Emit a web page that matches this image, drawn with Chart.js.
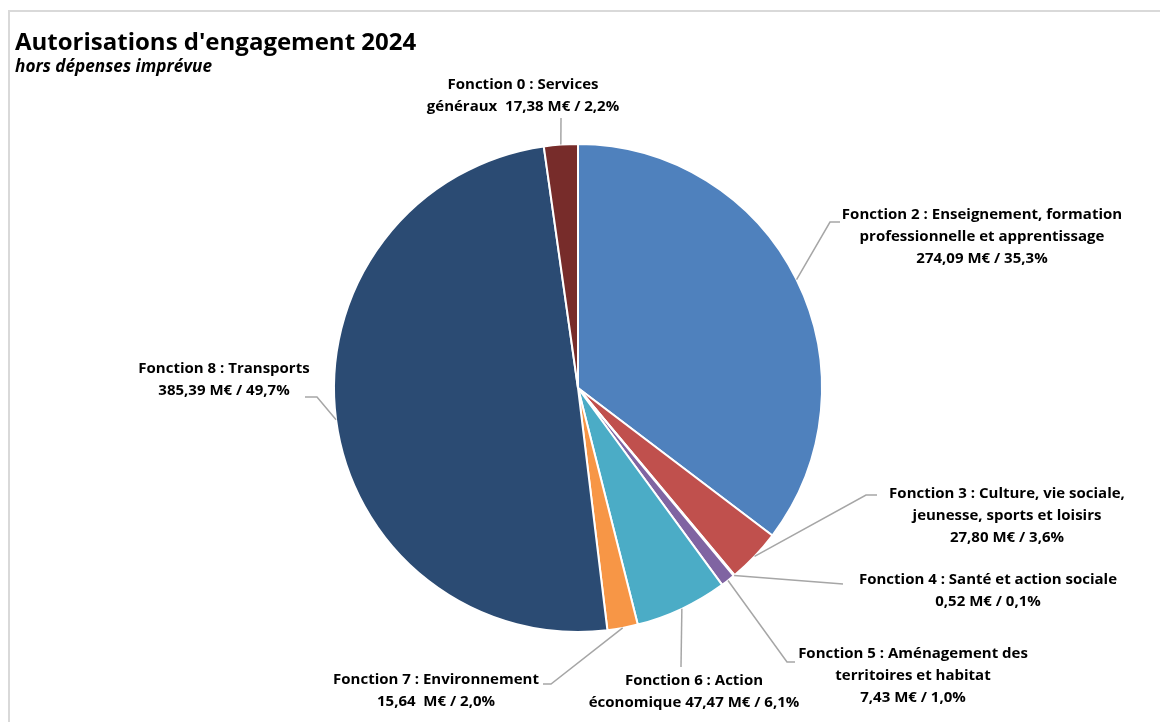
<!DOCTYPE html>
<html lang="fr">
<head>
<meta charset="utf-8">
<title>Autorisations d'engagement 2024</title>
<script src="https://cdn.jsdelivr.net/npm/chart.js@4"></script>
<style>
  html, body { margin: 0; padding: 0; background: #fff; }
  canvas { display: block; }
</style>
</head>
<body>
<canvas id="aeChart" width="1161" height="722"></canvas>
<script>
// Data (clockwise from 12 o'clock)
const categories = ['Fonction 2', 'Fonction 3', 'Fonction 4', 'Fonction 5', 'Fonction 6', 'Fonction 7', 'Fonction 8', 'Fonction 0'];
const amounts = [274.09, 27.80, 0.52, 7.43, 47.47, 15.64, 385.39, 17.38];
const labelLines = [
  ['Fonction 2 : Enseignement, formation', 'professionnelle et apprentissage', '274,09 M€ / 35,3%'],
  ['Fonction 3 : Culture, vie sociale,', 'jeunesse, sports et loisirs', '27,80 M€ / 3,6%'],
  ['Fonction 4 : Santé et action sociale', '0,52 M€ / 0,1%'],
  ['Fonction 5 : Aménagement des', 'territoires et habitat', '7,43 M€ / 1,0%'],
  ['Fonction 6 : Action', 'économique 47,47 M€ / 6,1%'],
  ['Fonction 7 : Environnement', '15,64  M€ / 2,0%'],
  ['Fonction 8 : Transports', '385,39 M€ / 49,7%'],
  ['Fonction 0 : Services', 'généraux  17,38 M€ / 2,2%']
];
const sliceColors = ['#4F81BD', '#C0504D', '#9BBB59', '#8064A2', '#4BACC6', '#F79646', '#2B4B73', '#772C2A'];

// Label layout, relative to the pie centre: text block centre (x, first line y),
// leader elbow and leader end
const labelLayout = [
  { tx: 404, ty: -173, elbow: [252, -166], end: [262, -166] },
  { tx: 429, ty: 106, elbow: [288, 107], end: [299, 107] },
  { tx: 410, ty: 192, elbow: [265, 196], end: [265, 196] },
  { tx: 335, ty: 266, elbow: [209, 274], end: [217, 274] },
  { tx: 116, ty: 293, elbow: [103, 279], end: [103, 279] },
  { tx: -142, ty: 292, elbow: [-27, 296], end: [-35, 296] },
  { tx: -354, ty: -19, elbow: [-261, 9], end: [-273, 9] },
  { tx: -55, ty: -303, elbow: [-17, -270], end: [-17, -270] }
];

const LABEL_FONT = 'bold 15px "Open Sans", Lato, sans-serif';
const LINE_HEIGHT = 22;

// Frame and titles
const framePlugin = {
  id: 'frame',
  beforeDraw(chart) {
    const ctx = chart.ctx;
    ctx.save();
    ctx.fillStyle = '#fff';
    ctx.fillRect(0, 0, chart.width, chart.height);
    ctx.strokeStyle = '#D9D9D9';
    ctx.lineWidth = 2;
    ctx.beginPath();
    ctx.moveTo(9, chart.height + 5);
    ctx.lineTo(9, 11);
    ctx.lineTo(1160, 11);
    ctx.stroke();
    ctx.fillStyle = '#000';
    ctx.textAlign = 'left';
    ctx.textBaseline = 'alphabetic';
    ctx.font = 'bold 24px "Open Sans", Lato, sans-serif';
    ctx.fillText("Autorisations d'engagement 2024", 15, 50);
    ctx.font = 'italic bold 17.2px "Open Sans", Lato, sans-serif';
    ctx.fillText('hors dépenses imprévue', 15, 72);
    ctx.restore();
  }
};

// Data labels with leader lines
const leaderLabels = {
  id: 'leaderLabels',
  afterDraw(chart) {
    const ctx = chart.ctx;
    const arcs = chart.getDatasetMeta(0).data;
    ctx.save();
    arcs.forEach((arc, i) => {
      const { x, y, startAngle, endAngle, outerRadius } = arc.getProps(['x', 'y', 'startAngle', 'endAngle', 'outerRadius'], true);
      const mid = (startAngle + endAngle) / 2;
      const sx = x + Math.cos(mid) * outerRadius;
      const sy = y + Math.sin(mid) * outerRadius;
      const lay = labelLayout[i];
      ctx.strokeStyle = '#A6A6A6';
      ctx.lineWidth = 1.5;
      ctx.beginPath();
      ctx.moveTo(sx, sy);
      ctx.lineTo(x + lay.elbow[0], y + lay.elbow[1]);
      ctx.lineTo(x + lay.end[0], y + lay.end[1]);
      ctx.stroke();

      ctx.fillStyle = '#000';
      ctx.font = LABEL_FONT;
      ctx.textAlign = 'center';
      ctx.textBaseline = 'middle';
      labelLines[i].forEach((line, j) => {
        ctx.fillText(line, x + lay.tx, y + lay.ty + j * LINE_HEIGHT);
      });
    });
    ctx.restore();
  }
};

function renderChart() {
  const ctx = document.getElementById('aeChart').getContext('2d');
  new Chart(ctx, {
    type: 'pie',
    data: {
      labels: categories,
      datasets: [{
        data: amounts,
        backgroundColor: sliceColors,
        borderColor: '#FFFFFF',
        borderWidth: 2
      }]
    },
    options: {
      responsive: false,
      animation: false,
      layout: {
        padding: { top: 143, bottom: 89, left: 100, right: 105 }
      },
      plugins: {
        legend: { display: false },
        tooltip: { enabled: false }
      }
    },
    plugins: [framePlugin, leaderLabels]
  });
}

document.addEventListener('DOMContentLoaded', renderChart);
</script>
</body>
</html>
